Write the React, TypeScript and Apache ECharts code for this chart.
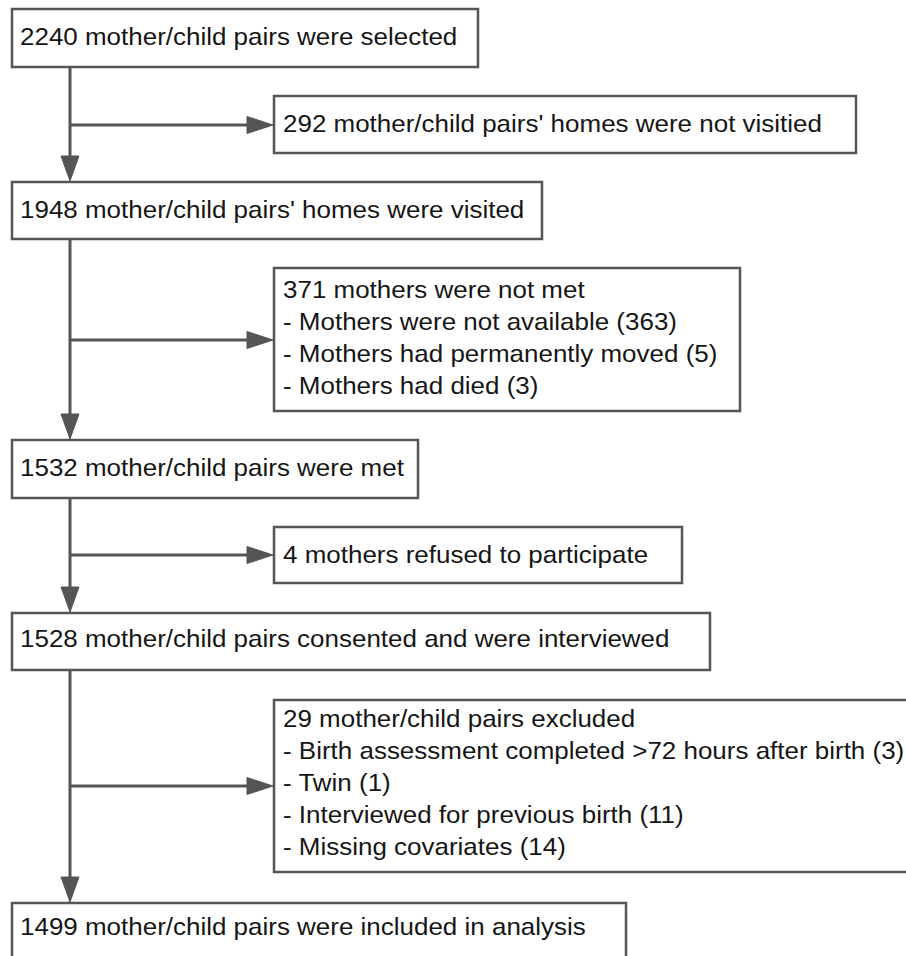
import React, { useEffect, useRef } from "react";
import * as echarts from "echarts";

// ---- Data ----
const mainSteps: string[] = [
  "2240 mother/child pairs were selected",
  "1948 mother/child pairs' homes were visited",
  "1532 mother/child pairs were met",
  "1528 mother/child pairs consented and were interviewed",
  "1499 mother/child pairs were included in analysis",
];

const exclusionHeads: string[] = [
  "292 mother/child pairs' homes were not visitied",
  "371 mothers were not met",
  "4 mothers refused to participate",
  "29 mother/child pairs excluded",
];

const exclusionDetails: string[][] = [
  [],
  [
    "- Mothers were not available (363)",
    "- Mothers had permanently moved (5)",
    "- Mothers had died (3)",
  ],
  [],
  [
    "- Birth assessment completed >72 hours after birth (3)",
    "- Twin (1)",
    "- Interviewed for previous birth (11)",
    "- Missing covariates (14)",
  ],
];

// ---- Layout (pixels) ----
const mainBoxes = [
  { x: 12, y: 9, w: 466, h: 58 },
  { x: 12, y: 182, w: 530, h: 57 },
  { x: 12, y: 440, w: 406, h: 58 },
  { x: 12, y: 613, w: 698, h: 57 },
  { x: 12, y: 903, w: 614, h: 80 },
];
const mainTextY = [36, 209, 467, 638, 926];

const sideBoxes = [
  { x: 274, y: 96, w: 582, h: 57 },
  { x: 274, y: 268, w: 466, h: 143 },
  { x: 274, y: 527, w: 408, h: 56 },
  { x: 274, y: 700, w: 645, h: 172 },
];
const sideFirstLineY = [123, 289, 554, 718];
const branchY = [125, 340, 555, 786];

const LINE_X = 70;
const STROKE = "#555555";
const TEXT_COLOR = "#161616";
const FONT_SIZE = 24;
const SCALE_X = 1.082;
const LINE_GAP = 32;

function textEl(str: string, x: number, y: number) {
  return {
    type: "text",
    x,
    y,
    scaleX: SCALE_X,
    z: 10,
    style: {
      text: str,
      x: 0,
      y: 0,
      fill: TEXT_COLOR,
      fontSize: FONT_SIZE,
      fontFamily: "'Liberation Sans', Arial, sans-serif",
      align: "left",
      verticalAlign: "middle",
      textAlign: "left",
      textVerticalAlign: "middle",
    },
  };
}

function rectEl(b: { x: number; y: number; w: number; h: number }) {
  return {
    type: "rect",
    z: 5,
    shape: { x: b.x, y: b.y, width: b.w, height: b.h },
    style: { fill: "#ffffff", stroke: STROKE, lineWidth: 2.5 },
  };
}

function lineEl(x1: number, y1: number, x2: number, y2: number) {
  return {
    type: "line",
    z: 3,
    shape: { x1, y1, x2, y2 },
    style: { stroke: STROKE, lineWidth: 3 },
  };
}

function polyEl(points: number[][]) {
  return {
    type: "polygon",
    z: 4,
    shape: { points },
    style: { fill: STROKE, stroke: STROKE, lineWidth: 1 },
  };
}

export default function App() {
  const ref = useRef<HTMLDivElement>(null);

  useEffect(() => {
    if (!ref.current) return;
    const chart = echarts.init(ref.current, null, { renderer: "svg" });

    const elements: any[] = [];

    mainSteps.forEach((s, i) => {
      elements.push(rectEl(mainBoxes[i]));
      elements.push(textEl(s, mainBoxes[i].x + 8, mainTextY[i]));
    });

    exclusionHeads.forEach((h, i) => {
      elements.push(rectEl(sideBoxes[i]));
      const lines = [h, ...exclusionDetails[i]];
      lines.forEach((ln, j) => {
        elements.push(textEl(ln, sideBoxes[i].x + 9, sideFirstLineY[i] + j * LINE_GAP));
      });
    });

    for (let i = 0; i < mainBoxes.length - 1; i++) {
      const top = mainBoxes[i].y + mainBoxes[i].h;
      const tip = mainBoxes[i + 1].y - 1;
      const base = tip - 25;
      elements.push(lineEl(LINE_X, top, LINE_X, base + 2));
      elements.push(
        polyEl([
          [LINE_X - 9, base],
          [LINE_X + 9, base],
          [LINE_X, tip],
        ])
      );
      const by = branchY[i];
      const tipX = sideBoxes[i].x - 1;
      const baseX = tipX - 26;
      elements.push(lineEl(LINE_X, by, baseX + 2, by));
      elements.push(
        polyEl([
          [baseX, by - 8.5],
          [baseX, by + 8.5],
          [tipX, by],
        ])
      );
    }

    chart.setOption({
      animation: false,
      backgroundColor: "#ffffff",
      graphic: { elements },
    });

    return () => chart.dispose();
  }, []);

  return (
    <div
      ref={ref}
      style={{ position: "fixed", left: 0, top: 0, width: 906, height: 956 }}
    />
  );
}
